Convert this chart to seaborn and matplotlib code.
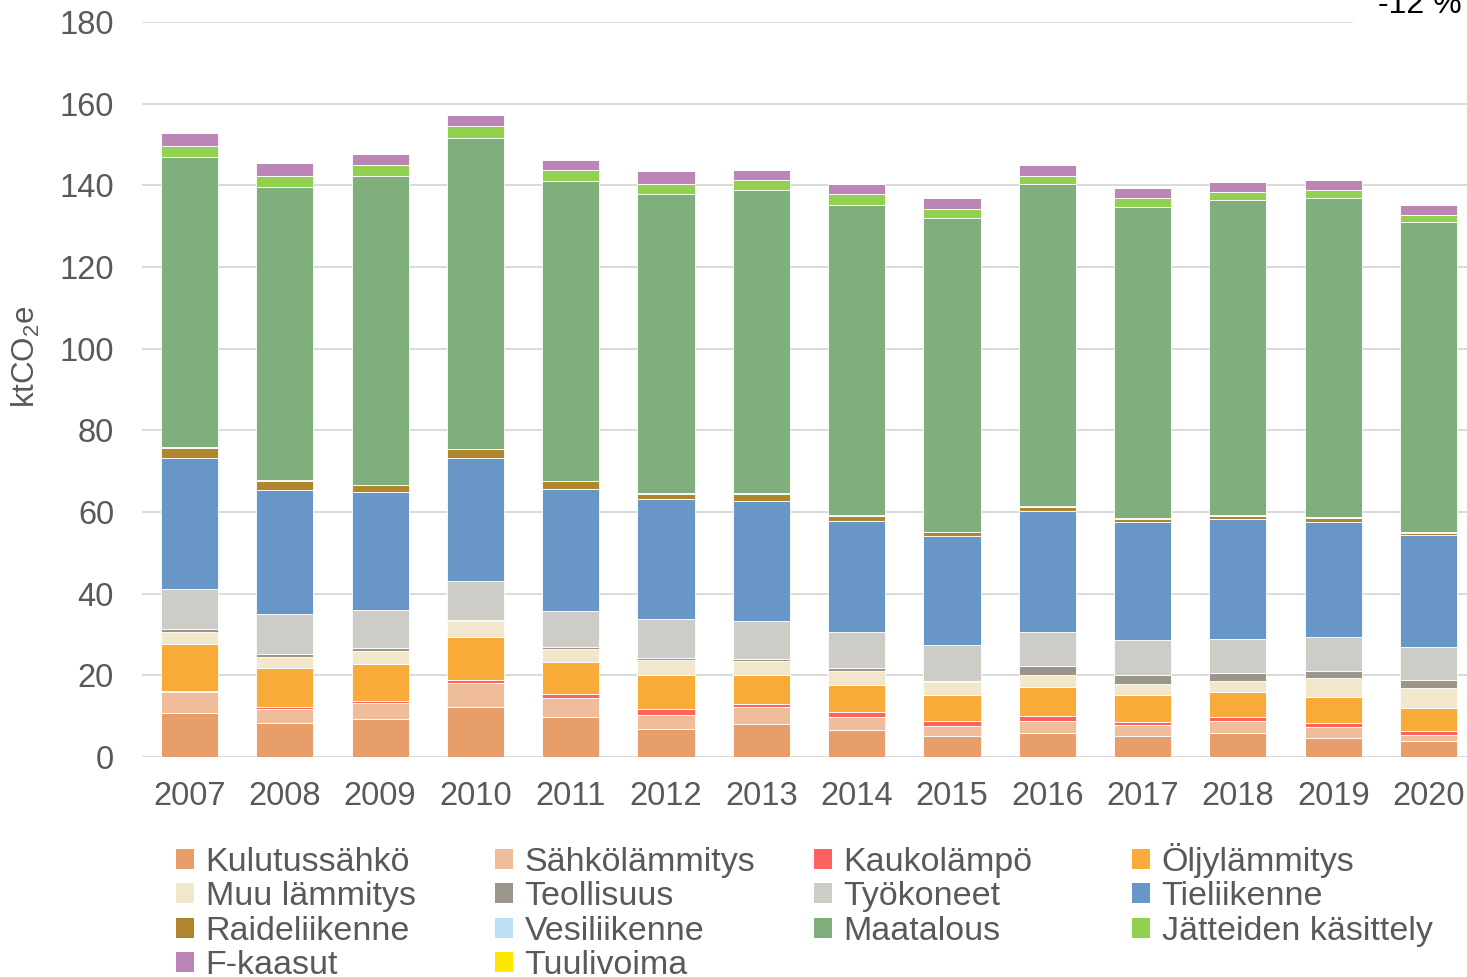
import matplotlib
matplotlib.use("Agg")
import matplotlib.pyplot as plt
import numpy as np
import pandas as pd
import seaborn as sns
from matplotlib.patches import Patch

# Annual emissions by sector, ktCO2e
years = [str(y) for y in range(2007, 2021)]
kulutussahko = [10.7, 8.3, 9.2, 12.3, 9.9, 6.9, 8.2, 6.6, 5.1, 6.0, 5.1, 6.0, 4.7, 3.9]
sahkolammitys = [5.1, 3.4, 4.0, 5.9, 4.6, 3.5, 4.1, 3.1, 2.5, 2.8, 2.8, 2.8, 2.6, 1.5]
kaukolampo = [0.4, 0.6, 0.4, 0.6, 1.0, 1.4, 0.7, 1.3, 1.3, 1.3, 0.7, 1.0, 1.0, 0.9]
oljylammitys = [11.5, 9.4, 9.2, 10.5, 7.8, 8.4, 7.1, 6.6, 6.2, 7.0, 6.5, 6.0, 6.3, 5.7]
muu_lammitys = [3.0, 2.9, 3.1, 4.0, 3.1, 3.5, 3.5, 3.5, 3.2, 3.0, 2.8, 2.8, 4.7, 5.0]
teollisuus = [0.7, 0.6, 0.9, 0.3, 0.6, 0.6, 0.4, 0.6, 0.4, 2.3, 2.2, 2.0, 1.8, 1.8]
tyokoneet = [9.7, 9.7, 9.1, 9.4, 8.8, 9.4, 9.3, 8.8, 8.7, 8.1, 8.5, 8.4, 8.2, 8.2]
tieliikenne = [32.1, 30.6, 28.9, 30.2, 29.8, 29.5, 29.5, 27.3, 26.7, 29.8, 28.9, 29.2, 28.3, 27.4]
raideliikenne = [2.4, 2.2, 1.7, 2.2, 1.9, 1.3, 1.6, 1.2, 0.9, 1.0, 0.9, 0.9, 0.9, 0.5]
vesiliikenne = [0.2, 0.2, 0.2, 0.1, 0.2, 0.2, 0.2, 0.2, 0.2, 0.2, 0.2, 0.2, 0.2, 0.2]
maatalous = [71.1, 71.6, 75.6, 76.2, 73.3, 73.3, 74.2, 76.1, 76.8, 78.9, 76.1, 77.1, 78.3, 75.9]
jatteiden_kasittely = [2.7, 2.8, 2.6, 2.8, 2.8, 2.4, 2.5, 2.5, 2.2, 1.9, 2.2, 1.9, 1.9, 1.8]
f_kaasut = [3.2, 3.2, 2.8, 2.8, 2.5, 3.0, 2.5, 2.5, 2.6, 2.8, 2.5, 2.6, 2.5, 2.3]
tuulivoima = [0.0, 0.0, 0.0, 0.0, 0.0, 0.0, 0.0, 0.0, 0.0, 0.0, 0.0, 0.0, 0.0, 0.0]

sectors = [
    ("Kulutussähkö", kulutussahko, "#E89E6A"),
    ("Sähkölämmitys", sahkolammitys, "#EFBD9A"),
    ("Kaukolämpö", kaukolampo, "#FF6161"),
    ("Öljylämmitys", oljylammitys, "#F9AB3A"),
    ("Muu lämmitys", muu_lammitys, "#F3E7CB"),
    ("Teollisuus", teollisuus, "#9C958A"),
    ("Työkoneet", tyokoneet, "#CDCCC6"),
    ("Tieliikenne", tieliikenne, "#6796C7"),
    ("Raideliikenne", raideliikenne, "#AF852E"),
    ("Vesiliikenne", vesiliikenne, "#BDE0F5"),
    ("Maatalous", maatalous, "#7EAF7C"),
    ("Jätteiden käsittely", jatteiden_kasittely, "#92D050"),
    ("F-kaasut", f_kaasut, "#BB86B5"),
    ("Tuulivoima", tuulivoima, "#FFE600"),
]

df = pd.DataFrame(
    [(name, y, v) for name, vals, _ in sectors for y, v in zip(years, vals)],
    columns=["Sektori", "Vuosi", "ktCO2e"],
)

sns.set_theme(style="white")
plt.rcParams["font.family"] = ["Liberation Sans", "DejaVu Sans"]
plt.rcParams["mathtext.fontset"] = "custom"
plt.rcParams["mathtext.rm"] = "Liberation Sans"

W, H = 1467, 977
fig = plt.figure(figsize=(W / 100, H / 100), dpi=100)
ax_left, ax_right = 141.85, 1476.15
ax_bottom, ax_top = 757, 22
ax = fig.add_axes([ax_left / W, 1 - ax_bottom / H, (ax_right - ax_left) / W, (ax_bottom - ax_top) / H])

text_col = "#595959"
bottom = np.zeros(len(years))
for name, vals, col in sectors:
    sub = df[df["Sektori"] == name]
    sns.barplot(
        data=sub, x="Vuosi", y="ktCO2e", order=years, color=col, width=0.6,
        errorbar=None, bottom=bottom.copy(), edgecolor="white", linewidth=0.6,
        saturation=1, ax=ax,
    )
    bottom += np.array(vals)

ax.set_xlim(-0.5, 13.5)
ax.set_ylim(0, 180)
ax.set_yticks(range(0, 181, 20))
ax.yaxis.grid(True, color="#d4d4d4", linewidth=1.2)
ax.xaxis.grid(False)
ax.set_axisbelow(True)
for s in ax.spines.values():
    s.set_visible(False)
ax.tick_params(axis="y", length=0, pad=20, labelsize=23.5, labelcolor=text_col)
ax.tick_params(axis="x", length=0, pad=17, labelsize=23.5, labelcolor=text_col)
ax.set_xlabel("")
ax.set_ylabel("")
fig.text(26 / W, 1 - 357 / H, r"ktCO$_\mathregular{2}$e", rotation=90, ha="center", va="center",
         fontsize=22.5, color=text_col)

# Change from first to last year, top right
fig.text(1462 / W, 1 - 13 / H, "-12 %", ha="right", va="baseline", fontsize=23, color="black",
         bbox=dict(facecolor="white", edgecolor="none", pad=18))

# Legend laid out in rows of four
handles = [Patch(facecolor=c, edgecolor="none") for _, _, c in sectors]
labels = [n for n, _, _ in sectors]
col_x = [176, 495, 814, 1132]
col_y = [847, 847, 847, 843]
for c in range(4):
    idx = list(range(c, len(sectors), 4))
    fig.legend(
        [handles[i] for i in idx], [labels[i] for i in idx],
        loc="upper left", bbox_to_anchor=(col_x[c] / W, 1 - col_y[c] / H),
        frameon=False, fontsize=24.5, labelcolor=text_col,
        handlelength=0.52, handleheight=0.52, handletextpad=0.35,
        labelspacing=0.1, borderpad=0, borderaxespad=0,
    )

fig.savefig("out.png", dpi=100)
